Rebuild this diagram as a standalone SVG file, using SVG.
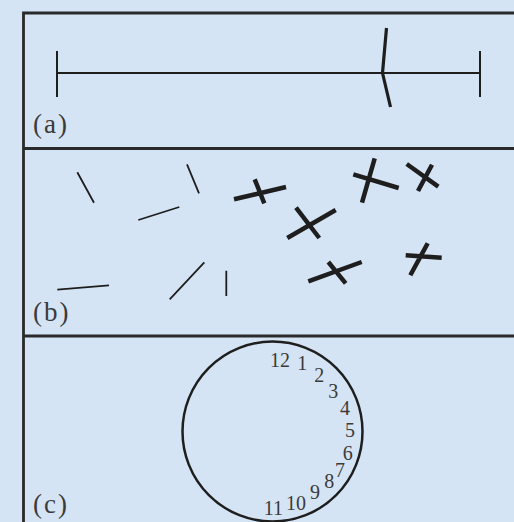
<svg xmlns="http://www.w3.org/2000/svg" width="514" height="522" viewBox="0 0 514 522">
<style>
.frame{stroke:#2a2a2a;stroke-width:2.8;fill:none}
.thin{stroke:#1e1e1e;stroke-width:1.8;fill:none;stroke-linecap:butt}
.mid{stroke:#1e1e1e;stroke-width:2;fill:none}
.bold{stroke:#1e1e1e;stroke-width:4.5;fill:none}
.lbl{font-family:"Liberation Serif","Times New Roman",serif;font-size:27px;letter-spacing:2px;fill:#3a3a3a}
.num{font-family:"Liberation Serif","Times New Roman",serif;font-size:20px;fill:#3a3a3a;text-anchor:middle}
</style>
<rect width="514" height="522" fill="#d5e4f4"/>
<g id="frame">
<path class="frame" d="M23.5 522 V13 H514 M23.5 148.5 H514 M23.5 336 H514"/>
</g>
<g id="panel-a">
<path class="mid" d="M57 73 H480 M57 51 V97 M480 51 V97"/>
<path d="M386.5 28 L382.5 73 L390.5 107" stroke="#1e1e1e" stroke-width="3.2" fill="none"/>
<text class="lbl" x="33" y="133">(a)</text>
</g>
<g id="panel-b">
<path class="thin" d="M77.3 172.3 L94 202.7 M138.3 220 L179.3 207 M187 164.3 L199 193.3 M57.3 289.7 L109 285.3 M169.7 299.3 L204.3 262.3 M226.3 270.7 V296"/>
<path class="bold" d="M234 199.3 L286 187 M254.7 179.3 L264.3 203.3"/>
<path class="bold" d="M287.3 238 L335.7 210 M296 207.7 L319.3 238"/>
<path class="bold" d="M353.3 174.3 L398.7 188 M374.7 158.3 L362 202.7"/>
<path class="bold" d="M406.7 164 L438.3 186.7 M432 164.7 L418 191"/>
<path class="bold" d="M308.3 281.3 L361.7 262 M328.3 262 L345.7 283.3"/>
<path class="bold" d="M405.7 255.3 L441.7 257.7 M427.7 243.3 L410.3 275.3"/>
<text class="lbl" x="33" y="321">(b)</text>
</g>
<g id="panel-c">
<circle cx="272.5" cy="431.5" r="90" fill="none" stroke="#1e1e1e" stroke-width="2.5"/>
<text class="num" x="280" y="367">12</text>
<text class="num" x="302.3" y="370">1</text>
<text class="num" x="319.3" y="381.5">2</text>
<text class="num" x="333.3" y="398">3</text>
<text class="num" x="345" y="415">4</text>
<text class="num" x="350" y="436.5">5</text>
<text class="num" x="347.7" y="460">6</text>
<text class="num" x="340" y="476.5">7</text>
<text class="num" x="329.3" y="488">8</text>
<text class="num" x="315" y="499">9</text>
<text class="num" x="296" y="510">10</text>
<text class="num" x="273.3" y="515">11</text>
<text class="lbl" x="33" y="513">(c)</text>
</g>
</svg>
